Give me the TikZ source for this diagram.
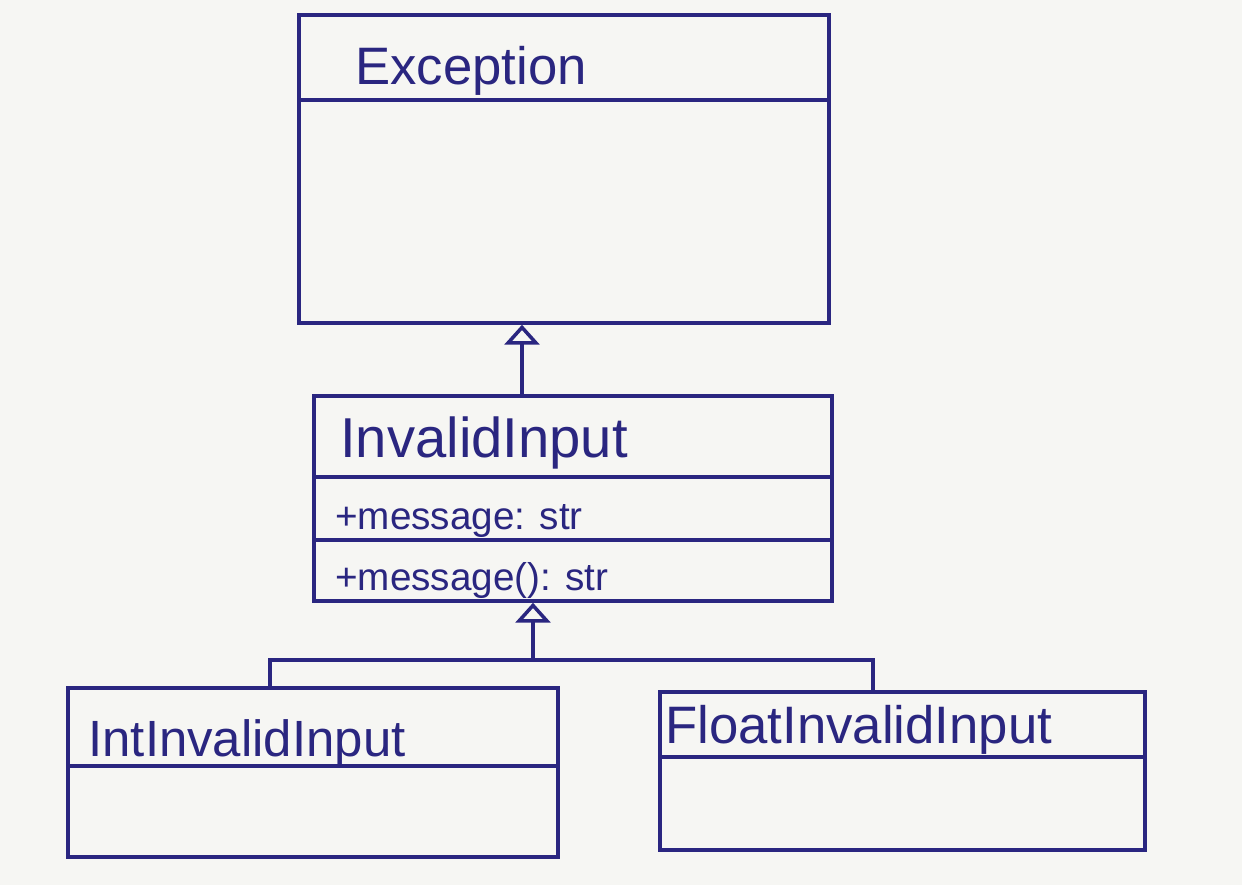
\documentclass[tikz,border=0pt]{standalone}
\usepackage{fontspec}
\setmainfont{Liberation Sans}
\usetikzlibrary{arrows.meta,calc}
\definecolor{ink}{RGB}{42,38,128}
\definecolor{paper}{RGB}{246,246,243}
\tikzset{
  box/.style={draw=ink, line width=2pt, rectangle, inner sep=0pt},
  divider/.style={draw=ink, line width=2pt},
  conn/.style={draw=ink, line width=2pt},
  inh/.style={conn, -{Triangle[open, length=0.4cm, width=0.7cm, line width=2pt]}},
  title/.style={text=ink, anchor=west, inner sep=0pt, font=\fontsize{30}{36}\selectfont},
  member/.style={text=ink, anchor=west, inner sep=0pt, font=\fontsize{22}{26}\selectfont},
}
\begin{document}
\begin{tikzpicture}[x=0.02cm, y=-0.02cm]
\fill[paper] (0,0) rectangle (1242,885);
\useasboundingbox (0,0) rectangle (1242,885);

% Exception
\node[box, minimum width=10.6cm, minimum height=6.16cm] (exc) at (564,169) {};
\draw[divider] (exc.west |- 0,100) -- (exc.east |- 0,100);
\node[title] (excT) at (355,71) {Exception};

% InvalidInput
\node[box, minimum width=10.36cm, minimum height=4.1cm] (ii) at (573,498.5) {};
\draw[divider] (ii.west |- 0,477) -- (ii.east |- 0,477);
\draw[divider] (ii.west |- 0,540) -- (ii.east |- 0,540);
\node[title, font=\fontsize{32}{38}\selectfont] (iiT) at (340,443) {InvalidInput};
\node[member] (iiA) at (335,521) {+message: str};
\node[member] (iiM) at (335,581) {+message(): str};

% IntInvalidInput
\node[box, minimum width=9.8cm, minimum height=3.38cm] (int) at (313,772.5) {};
\draw[divider] (int.west |- 0,766) -- (int.east |- 0,766);
\node[title, font=\fontsize{29}{34}\selectfont] (intT) at (88,743) {IntInvalidInput};

% FloatInvalidInput
\node[box, minimum width=9.7cm, minimum height=3.16cm] (flt) at (902.5,771) {};
\draw[divider] (flt.west |- 0,757) -- (flt.east |- 0,757);
\node[title] (fltT) at (665,730) {FloatInvalidInput};

% inheritance InvalidInput -> Exception
\coordinate (a1) at (522,396);
\draw[inh] (a1) -- (a1 |- exc.south);

% inheritance Int/Float -> InvalidInput
\coordinate (j) at (533,660);
\coordinate (lft) at (270,688);
\coordinate (rgt) at (873,692);
\draw[conn] (int.north -| lft) |- (j) -| (flt.north -| rgt);
\draw[inh] (j) -- (j |- ii.south);
\end{tikzpicture}
\end{document}
